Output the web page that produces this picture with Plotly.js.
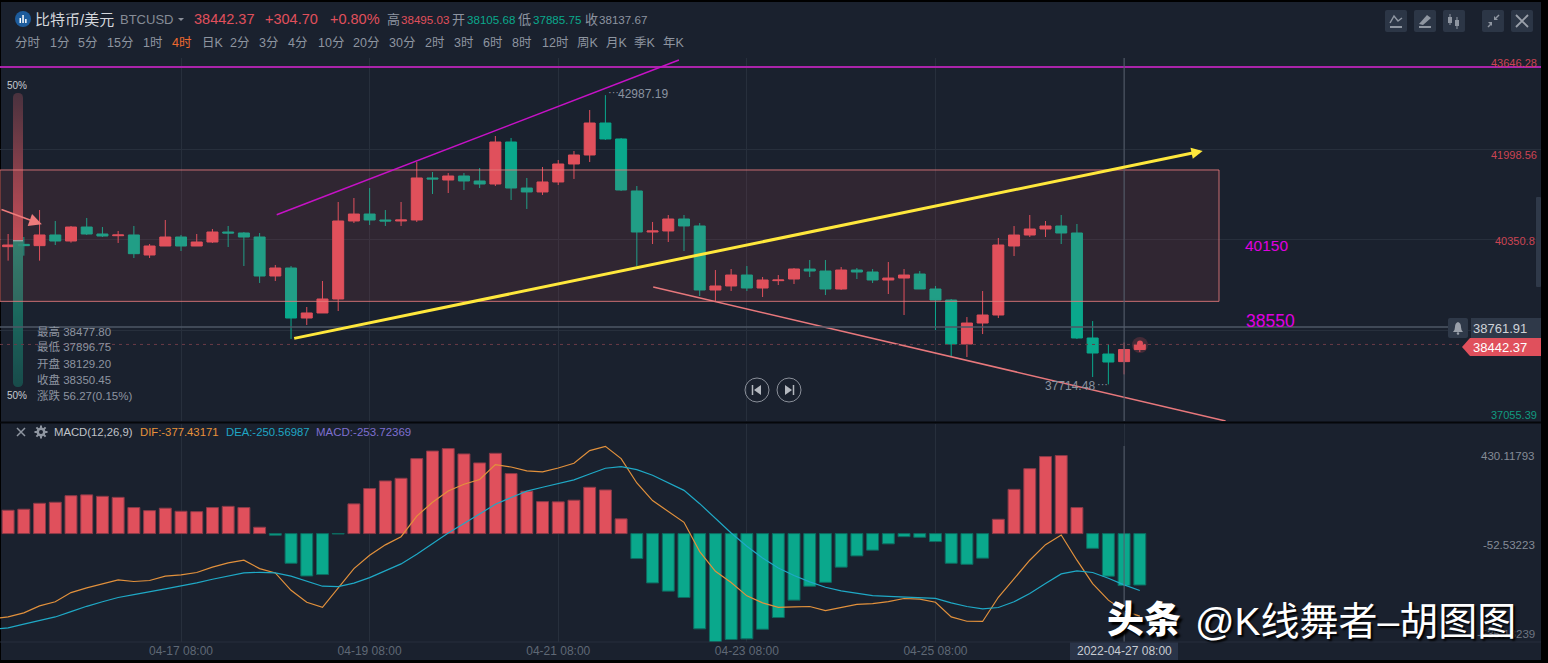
<!DOCTYPE html>
<html><head><meta charset="utf-8">
<script src="https://cdn.plot.ly/plotly-3.0.1.min.js"></script>
<style>html,body{margin:0;padding:0;background:#000;overflow:hidden}#c{width:1548px;height:663px}</style>
</head><body><div id="c"></div>
<script>
const opens=[40225,40267,40243,40438,40328,40583,40456,40425,40438,40073,
40237,40401,40237,40310,40492,40474,40401,39690,39836,38924,
39016,39271,40693,40820,40711,40693,40711,41477,41440,41513,
41422,41367,42133,41294,41222,41404,41732,41896,42479,42188,
41240,40492,40511,40729,40602,39435,39508,39708,39471,39605,
39635,39817,39781,39453,39799,39763,39617,39653,39726,39453,
39252,38450,38833,38979,40237,40437,40547,40601,40474,38560,
38268,38129.20,38350.45];
const closes=[40255,40243,40438,40328,40583,40456,40419,40438,40097,40237,
40401,40237,40310,40492,40474,40401,39690,39836,38924,39016,
39271,40693,40820,40711,40693,40711,41477,41459,41513,41422,
41367,42133,41294,41222,41404,41732,41896,42479,42188,41258,
40492,40511,40729,40602,39435,39508,39708,39471,39617,39617,
39818,39781,39453,39799,39763,39617,39653,39708,39453,39252,
38450,38833,38979,40255,40437,40547,40601,40474,38560,38286,
38122,38350.45,38442.37];
const highs=[40456,40401,40893,40693,40602,40748,40583,40511,40602,40273,
40711,40438,40456,40547,40602,40492,40474,39891,39872,39125,
39599,41039,41112,41294,40893,41039,41768,41586,41568,41568,
41659,42242,42206,41477,41677,41805,41969,42716,42987.19,42206,
41331,40675,40802,40802,40656,39799,39818,39872,39672,39708,
39836,39982,39982,39854,39836,39817,39945,39817,39781,39508,
39271,38942,39416,40383,40601,40802,40693,40802,40638,38869,
38450,38477.80,38487];
const lows=[39970,40061,39970,40255,40298,40438,40401,40292,40018,40018,
40237,40146,40237,40292,40219,39872,39563,39599,38542,38797,
39016,39052,40656,40620,40602,40602,40675,41185,41203,41258,
41294,41331,41076,40912,41167,41349,41459,41768,42170,41240,
39872,40273,40310,40146,39325,39216,39417,39417,39307,39526,
39544,39672,39343,39435,39635,39562,39362,38979,39453,38705,
38231,38213,38632,38924,40054,40401,40401,40273,38541,37849,
37714.48,37896.75,38304];
const macdHist=[114,119,148,153,185,189,182,177,127,112,
124,109,107,127,133,127,31,-8,-145,-207,
-200,-2,145,220,257,270,366,403,415,389,
345,392,293,207,156,155,163,226,213,72,
-122,-241,-281,-312,-465,-530,-517,-514,-467,-410,
-325,-257,-238,-164,-109,-81,-50,-15,-18,-39,
-145,-150,-120,70,216,317,376,381,127,-72,
-208,-253.72,-251];
const dif=[-407,-387,-353,-333,-288,-265,-246,-226,-234,-229,
-208,-202,-190,-164,-143,-130,-171,-192,-277,-335,
-360,-265,-171,-106,-55,-15,85,153,208,241,
264,337,325,306,301,320,343,405,426,366,
247,161,109,55,-88,-184,-239,-304,-338,-360,
-358,-356,-376,-361,-346,-342,-332,-317,-320,-335,
-407,-428,-429,-311,-218,-130,-54,-7,-130,-244,
-325,-377.43,-403];
const dea=[-460,-442,-426,-407,-381,-355,-333,-312,-298,-285,
-270,-255,-241,-223,-207,-192,-189,-192,-208,-233,
-257,-259,-242,-215,-181,-148,-101,-49,3,49,
98,143,176,207,226,244,262,291,319,327,
312,285,249,211,146,73,3,-62,-119,-168,
-205,-236,-262,-280,-293,-303,-307,-309,-312,-316,
-338,-356,-368,-361,-333,-293,-244,-197,-182,-190,
-218,-250.57,-278];
const leadTime='2022-04-15 08:00',leadDif=-415,leadDea=-468;
const dateTicks=['2022-04-17 08:00','2022-04-19 08:00','2022-04-21 08:00','2022-04-23 08:00','2022-04-25 08:00','2022-04-27 08:00'];
const dateLabels=['04-17 08:00','04-19 08:00','04-21 08:00','04-23 08:00','04-25 08:00',''];
const priceGrid=[43646.28,41998.56,40350.8,38703];
const periods=[['分时',15],['1分',50],['5分',78],['15分',107],['1时',143],['4时',172],['日K',202],['2分',230],['3分',259],['4分',288],['10分',318],['20分',353],['30分',389],['2时',425],['3时',454],['6时',483],['8时',512],['12时',542],['周K',577],['月K',606],['季K',634],['年K',663]];

const W=1548,H=663,FF='"Liberation Sans","Noto Sans CJK SC",sans-serif';
const HOUR=3600000;
const times=opens.map((_,i)=>new Date(Date.UTC(2022,3,15,12)+i*4*HOUR).toISOString().slice(0,16).replace('T',' '));
const RED='#e0505c',GREEN='#0aa88c',UP='#e0505c';
const px=x=>x/W,py=y=>1-y/H;
const P=s=>s.replace(/(-?[\d.]+) (-?[\d.]+)/g,(m,a,b)=>px(+a).toFixed(6)+','+py(+b).toFixed(6));
const chromePath=(s,o)=>Object.assign({type:'path',xref:'paper',yref:'paper',path:P(s),line:{width:0}},o);
const box=(x0,y0,x1,y1,fill,o)=>Object.assign({type:'rect',xref:'paper',yref:'paper',x0:px(x0),x1:px(x1),y0:py(y0),y1:py(y1),fillcolor:fill,line:{width:0}},o||{});
const circ=(cx,cy,r,o)=>Object.assign({type:'circle',xref:'paper',yref:'paper',x0:px(cx-r),x1:px(cx+r),y0:py(cy-r),y1:py(cy+r)},o);
const rbox=(x0,y0,x1,y1,r,fill)=>chromePath(`M${x0+r} ${y0} L${x1-r} ${y0} Q${x1} ${y0} ${x1} ${y0+r} L${x1} ${y1-r} Q${x1} ${y1} ${x1-r} ${y1} L${x0+r} ${y1} Q${x0} ${y1} ${x0} ${y1-r} L${x0} ${y0+r} Q${x0} ${y0} ${x0+r} ${y0} Z`,{fillcolor:fill});
const stroke=(s,c,w)=>chromePath(s,{line:{color:c,width:w}});

const note=(text,x,y,size,color,o)=>Object.assign({xref:'paper',yref:'paper',x:px(x-1),y:py(y),text:text,showarrow:false,xanchor:'left',yanchor:'middle',borderpad:0,font:{family:FF,size:size,color:color}},o||{});
const noteR=(text,x,y,size,color,o)=>note(text,x+2,y,size,color,Object.assign({xanchor:'right'},o||{}));

const traces=[
 {type:'candlestick',x:times,open:opens,high:highs,low:lows,close:closes,xaxis:'x',yaxis:'y',whiskerwidth:0,
  increasing:{line:{color:UP,width:1},fillcolor:UP},decreasing:{line:{color:GREEN,width:1},fillcolor:GREEN},hoverinfo:'skip'},
 {type:'bar',x:times,y:macdHist,xaxis:'x',yaxis:'y2',width:4*HOUR*0.76,
  marker:{color:macdHist.map(v=>v>=0?RED:GREEN),line:{color:macdHist.map(v=>v>=0?'#8a3a48':'#0d6a60'),width:1}},hoverinfo:'skip'},
 {type:'scatter',mode:'lines',x:[leadTime,...times],y:[leadDif,...dif],xaxis:'x',yaxis:'y2',line:{color:'#e2913c',width:1.2},hoverinfo:'skip'},
 {type:'scatter',mode:'lines',x:[leadTime,...times],y:[leadDea,...dea],xaxis:'x',yaxis:'y2',line:{color:'#1fa9c6',width:1.2},hoverinfo:'skip'}
];

const pink='#e8787c',mag='#c612c6';
const shapes=[
 Object.assign(box(1,2,1541,660,'#1a212e'),{layer:'below'}),
 {type:'rect',xref:'paper',yref:'y',x0:0,x1:px(1219),y0:39228,y1:41623,fillcolor:'rgba(224,84,92,0.11)',line:{color:'rgba(232,122,124,0.85)',width:1},layer:'above'},
 {type:'line',xref:'paper',yref:'y',x0:0,x1:1541/W,y0:43500,y1:43500,line:{color:'#aa24aa',width:2}},
 {type:'line',xref:'x',yref:'y',x0:'2022-04-18 08:21',x1:'2022-04-22 14:43',y0:40808,y1:43628,line:{color:mag,width:1.5}},
 {type:'line',xref:'x',yref:'y',x0:'2022-04-22 08:10',x1:'2022-04-28 09:50',y0:39490,y1:37047,line:{color:pink,width:1.5}},
 {type:'line',xref:'paper',yref:'y',x0:0,x1:px(1448),y0:38761.91,y1:38761.91,line:{color:'#4e5766',width:1.5}},
 {type:'line',xref:'paper',yref:'y',x0:0,x1:px(1462),y0:38442.37,y1:38442.37,line:{color:'#6a3a47',width:1,dash:'3px,4px'}},
 {type:'line',xref:'x',yref:'paper',x0:dateTicks[5],x1:dateTicks[5],y0:py(421),y1:py(58),line:{color:'#555d6b',width:1}},
 {type:'line',xref:'x',yref:'paper',x0:dateTicks[5],x1:dateTicks[5],y0:py(642),y1:py(446),line:{color:'#555d6b',width:1}},
 {type:'line',xref:'paper',yref:'paper',x0:0,x1:1541/W,y0:py(422.5),y1:py(422.5),line:{color:'#05070a',width:2}},
 {type:'line',xref:'paper',yref:'paper',x0:0,x1:1541/W,y0:py(642),y1:py(642),line:{color:'#272f3c',width:1}},
 box(1541,0,1548,663,'#000'),box(0,0,1548,2,'#000'),box(0,660.5,1548,663,'#000'),
 circ(1140,345,8,{fillcolor:'rgba(224,80,92,0.22)',line:{width:0}}),
 circ(1140,343.5,3,{fillcolor:'#e0505c',line:{width:0}}),
 rbox(1385,10,1407,32,2,'#2c3646'),rbox(1414,10,1436,32,2,'#2c3646'),rbox(1443,10,1465,32,2,'#2c3646'),rbox(1482,10,1504,32,2,'#2c3646'),rbox(1511,10,1533,32,2,'#2c3646'),
 stroke('M1390 23 L1394 16 L1398 21 L1402 18','#8f96a1',1.5),stroke('M1390 27 L1402 27','#8f96a1',2),
 chromePath('M1419 24 L1427 15 L1431 18 L1423 25 Z',{fillcolor:'#8f96a1'}),stroke('M1419 27 L1431 27','#8f96a1',2),
 box(1448,17,1452,23,'#8f96a1'),stroke('M1450 14 L1450 25','#8f96a1',1),box(1455,20,1459,26,'#8f96a1'),stroke('M1457 17 L1457 29','#8f96a1',1),
 stroke('M1488 27 L1491 24','#8f96a1',1.5),chromePath('M1492 22 L1492 26 L1488 22 Z',{fillcolor:'#8f96a1'}),
 stroke('M1499 15 L1496 18','#8f96a1',1.5),chromePath('M1494 20 L1494 16 L1498 20 Z',{fillcolor:'#8f96a1'}),
 stroke('M1516 15 L1528 27 M1528 15 L1516 27','#9aa0aa',1.8),
 circ(23,19,8,{fillcolor:'#1d5c9c',line:{width:0}}),box(19.5,18,21,23,'#fff'),box(22.3,15,23.8,23,'#fff'),box(25.1,19,26.6,23,'#fff'),
 chromePath('M178 18 L184 18 L181 21 Z',{fillcolor:'#8a8f99'}),
 rbox(1536,197,1541,287,1,'#2f3949'),
 circ(757,390,12,{line:{color:'#8a8f99',width:1}}),circ(789,390,12,{line:{color:'#8a8f99',width:1}}),
 stroke('M752.5 385 L752.5 395','#b4b8bf',1.5),chromePath('M761 385 L761 395 L754 390 Z',{fillcolor:'#b4b8bf'}),
 stroke('M793.5 385 L793.5 395','#b4b8bf',1.5),chromePath('M785 385 L785 395 L792 390 Z',{fillcolor:'#b4b8bf'}),
 rbox(1448,318,1468,338,2,'#2f3949'),box(1471,318,1541,338,'#2f3949'),
 chromePath('M1453 332 L1463 332 Q1461 330 1461 327 Q1461 323 1458 322 Q1455 323 1455 327 Q1455 330 1453 332 Z',{fillcolor:'#9aa0aa'}),circ(1458,333.5,1.3,{fillcolor:'#9aa0aa',line:{width:0}}),
 chromePath('M1462 347 L1470 338 L1541 338 L1541 356 L1470 356 Z',{fillcolor:'#e0505c'}),
 stroke('M17 428 L25 436 M25 428 L17 436','#8f96a1',1.5),
 stroke('M41 425.5 L41 438.5 M34.5 432 L47.5 432 M36.4 427.4 L45.6 436.6 M45.6 427.4 L36.4 436.6','#8f96a1',2),
 circ(41,432,4.5,{fillcolor:'#8f96a1',line:{width:0}}),circ(41,432,2,{fillcolor:'#1a212e',line:{width:0}}),
 box(1070,642.5,1178,660,'#2a3448')
];

const sliderSvg=`<svg xmlns="http://www.w3.org/2000/svg" width="10" height="294"><defs><linearGradient id="a" x1="0" y1="0" x2="0" y2="1"><stop offset="0" stop-color="#4f3440"/><stop offset="0.5" stop-color="#d0525c"/><stop offset="0.5" stop-color="#c8ccd0"/><stop offset="0.507" stop-color="#208f78"/><stop offset="1" stop-color="#18504e"/></linearGradient></defs><rect width="10" height="294" rx="4.5" fill="url(#a)"/></svg>`;

const grey='#8d94a0';
const headRed={family:FF,size:14.5,color:RED,weight:500};
const annotations=[
 note('比特币/美元',35,19,15,'#d4d7dc'),
 note('BTCUSD',120,19,13,'#868c96'),
 note('38442.37',194,19,14.5,RED,{font:headRed}),
 note('+304.70',265,19,14.5,RED,{font:headRed}),
 note('+0.80%',330,19,14.5,RED,{font:headRed}),
 note('高',387,19,13,grey),note('38495.03',401,19,11.6,RED),
 note('开',452,19,13,grey),note('38105.68',467,19,11.6,GREEN),
 note('低',518,19,13,grey),note('37885.75',533,19,11.6,GREEN),
 note('收',585,19,13,grey),note('38137.67',599,19,11.6,grey),
 ...periods.map(([t,x])=>note(t,x,43,12.5,t==='4时'?'#ee6a30':'#8e95a0')),
 noteR('43646.28',1537,63,11,'#cc4453'),noteR('41998.56',1537,155,11,'#cc4453'),
 noteR('40350.8',1535,241,11,'#cc4453'),noteR('37055.39',1537,415,11,'#119a80'),
 noteR('430.11793',1535,456,11.5,'#858c97'),noteR('-52.53223',1535,545,11.5,'#858c97'),noteR('-535.18239',1535,634,11.5,'#6f7682'),
 note('50%',7,86,10,'#c8ccd2'),note('50%',7,395,10,'#c8ccd2'),
 note('最高 38477.80',37,331,11.5,grey),note('最低 37896.75',37,347,11.5,grey),note('开盘 38129.20',37,363,11.5,grey),note('收盘 38350.45',37,379,11.5,grey),note('涨跌 56.27(0.15%)',37,395,11.5,grey),
 note('···',608,92,11,'#8a93a0'),note('42987.19',618,94,12,'#8a93a0'),
 note('37714.48',1045,385.5,12,'#8a93a0'),note('···',1097,384,11,'#8a93a0'),
 note('40150',1245,245,15.5,'#e000e0'),note('38550',1246,321,17.5,'#e000e0'),
 {xref:'x',yref:'y',axref:'x',ayref:'y',x:'2022-04-28 04:00',y:41969,ax:'2022-04-18 12:25',ay:38547,text:'',showarrow:true,arrowhead:2,arrowsize:0.75,arrowwidth:3,arrowcolor:'#ffe83c'},
 {xref:'x',yref:'y',axref:'x',ayref:'y',x:'2022-04-15 20:35',y:40632,ax:'2022-04-15 09:56',ay:40911,text:'',showarrow:true,arrowhead:2,arrowsize:1.7,arrowwidth:1.5,arrowcolor:'#ee7c7c'},
 noteR('38761.91',1527,328.5,13,'#cfd3d8'),noteR('38442.37',1527,347,13,'#ffffff',{font:{family:FF,size:13,color:'#fff',weight:500}}),
 note('MACD(12,26,9)',54,432,11.3,'#c0c4ca'),note('DIF:-377.43171',140,432,11.3,'#e8923a'),note('DEA:-250.56987',226,432,11.3,'#1fa6c4'),note('MACD:-253.72369',316,432,11.5,'#7e6fd0'),
 note('2022-04-27 08:00',1125,651,12,'#c8ccd2',{xanchor:'center'}),
 note('头条',1107,620,37,'#ffffff',{font:{family:FF,size:37,color:'#fff',weight:900,shadow:'3px 3px 2px #000'}}),
 note('@K线舞者–胡图图',1195,621,39,'#ffffff',{font:{family:FF,size:39,color:'#fff',shadow:'2px 2px 2px #000'}})
];

const layout={width:W,height:H,margin:{l:0,r:0,t:0,b:0,pad:0},paper_bgcolor:'#000',plot_bgcolor:'rgba(0,0,0,0)',showlegend:false,boxgap:0.3,boxgroupgap:0,bargap:0.2,
 font:{family:FF},
 xaxis:{type:'date',domain:[0,1541/W],anchor:'y2',range:['2022-04-15 09:56','2022-05-01 18:06'],tickmode:'array',tickvals:dateTicks,ticktext:dateLabels,ticks:'',tickfont:{family:FF,size:12,color:'#5f6875'},gridcolor:'#272f3c',gridwidth:1,showgrid:true,zeroline:false,showline:false,rangeslider:{visible:false},fixedrange:true},
 yaxis:{domain:[py(421),py(58)],range:[37047,43664],tickmode:'array',tickvals:priceGrid,showticklabels:false,ticks:'',gridcolor:'#272f3c',gridwidth:1,zeroline:false,fixedrange:true},
 yaxis2:{domain:[py(642),py(424)],range:[-529.3,535],showgrid:false,showticklabels:false,ticks:'',zeroline:false,fixedrange:true},
 shapes:shapes,annotations:annotations,
 images:[{source:'data:image/svg+xml,'+encodeURIComponent(sliderSvg),xref:'paper',yref:'paper',x:px(13),y:py(93),sizex:10/W,sizey:294/H,sizing:'stretch',xanchor:'left',yanchor:'top',layer:'above',opacity:0.9}]
};
Plotly.newPlot('c',traces,layout,{displayModeBar:false,responsive:false});
</script></body></html>
